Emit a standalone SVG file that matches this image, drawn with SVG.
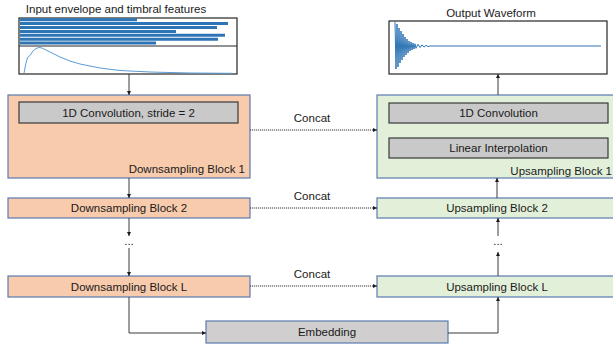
<svg xmlns="http://www.w3.org/2000/svg" width="613" height="347" viewBox="0 0 613 347">
<defs>
<marker id="ah" viewBox="0 0 6 6" refX="6" refY="3" markerWidth="4" markerHeight="4" orient="auto"><path d="M0,0 L6,3 L0,6 z" fill="#1a1a1a"/></marker>
<style>
text{font-family:"Liberation Sans",Arial,sans-serif;font-size:11.5px;fill:#1a1a1a}
.down{fill:#F8CBAD;stroke:#5B7BAF;stroke-width:1.2}
.up{fill:#E2F0D9;stroke:#5B7BAF;stroke-width:1.2}
.gray{fill:#C9C9C9;stroke:#3a3a3a;stroke-width:1.2}
.emb{fill:#D0CECE;stroke:#5B7BAF;stroke-width:1.2}
.frame{fill:#fff;stroke:#262626;stroke-width:1.2}
.bar{stroke:#2E75B6;stroke-width:3}
.ln{fill:none;stroke:#3a3a3a;stroke-width:1}
.dot{fill:none;stroke:#3a3a3a;stroke-width:1;stroke-dasharray:1.2,0.8}
.c{text-anchor:middle}
</style>
</defs>

<g id="input">
<text x="116" y="13" class="c">Input envelope and timbral features</text>
<rect class="frame" x="19" y="18" width="218" height="56"/>
<line x1="19" y1="46" x2="237" y2="46" stroke="#262626" stroke-width="1"/>
<line class="bar" x1="20" y1="19.7" x2="137" y2="19.7"/>
<line class="bar" x1="20" y1="23.6" x2="228" y2="23.6"/>
<line class="bar" x1="20" y1="27.5" x2="217" y2="27.5"/>
<line class="bar" x1="20" y1="31.4" x2="176" y2="31.4"/>
<line class="bar" x1="20" y1="35.3" x2="225" y2="35.3"/>
<line class="bar" x1="20" y1="39.2" x2="218" y2="39.2"/>
<line class="bar" x1="20" y1="43.1" x2="156" y2="43.1"/>
<path d="M24,73 L26,63 L27.5,57.5 L30,55.5 L33,51 L36,48.5 L39,47.5 L42,48 L46,50 L52,53 L60,57 L70,61 L80,64 L100,68 L120,70.5 L150,72 L190,73 L232,73.3" fill="none" stroke="#5B9BD5" stroke-width="1"/>
</g>

<g id="output">
<text x="491" y="17" class="c">Output Waveform</text>
<rect class="frame" x="389" y="21" width="218" height="53"/>
<polyline fill="none" stroke="#2E75B6" stroke-width="1" points="395,22 396,69 397,24 398,67 399,28 400,63 401,31 402,60 403,34 404,57 405,37 406,55 407,39 408,53 409,41 410,51 411,42 412,50 413,43 414,49 415,43.8 416,48.3 418,44.3 420,47.6 422,44.9 424,47.1 426,45.3 428,46.6 430,46 601,46"/>
</g>

<g id="down1">
<rect class="down" x="8" y="95" width="242" height="83"/>
<rect class="gray" x="19" y="102" width="219" height="21"/>
<text x="128.5" y="116.5" class="c">1D Convolution, stride = 2</text>
<text x="245" y="173" text-anchor="end">Downsampling Block 1</text>
</g>
<g id="down2">
<rect class="down" x="8" y="198" width="242" height="20"/>
<text x="129" y="212" class="c">Downsampling Block 2</text>
</g>
<g id="downL">
<rect class="down" x="8" y="276" width="242" height="21"/>
<text x="129" y="290.5" class="c">Downsampling Block L</text>
</g>

<g id="up1">
<rect class="up" x="377" y="95" width="240" height="83"/>
<rect class="gray" x="389" y="103" width="219" height="20"/>
<text x="498.5" y="117" class="c">1D Convolution</text>
<rect class="gray" x="389" y="138" width="219" height="20"/>
<text x="498.5" y="152" class="c">Linear Interpolation</text>
<text x="612" y="175" text-anchor="end">Upsampling Block 1</text>
</g>
<g id="up2">
<rect class="up" x="377" y="198" width="240" height="20"/>
<text x="497" y="212" class="c">Upsampling Block 2</text>
</g>
<g id="upL">
<rect class="up" x="377" y="276" width="240" height="21"/>
<text x="497" y="290.5" class="c">Upsampling Block L</text>
</g>

<g id="embedding">
<rect class="emb" x="206" y="321" width="242" height="22"/>
<text x="327" y="336" class="c">Embedding</text>
</g>

<g id="dots">
<text x="129" y="245" class="c">...</text>
<text x="498" y="245" class="c">...</text>
</g>

<g id="connectors">
<line class="ln" x1="129" y1="74" x2="129" y2="95" marker-end="url(#ah)"/>
<line class="ln" x1="498" y1="95" x2="498" y2="74" marker-end="url(#ah)"/>
<line class="ln" x1="129" y1="178" x2="129" y2="198" marker-end="url(#ah)"/>
<line class="ln" x1="497" y1="198" x2="497" y2="178" marker-end="url(#ah)"/>
<line class="ln" x1="129" y1="218" x2="129" y2="236" marker-end="url(#ah)"/>
<line class="ln" x1="129" y1="248" x2="129" y2="276" marker-end="url(#ah)"/>
<line class="ln" x1="498" y1="276" x2="498" y2="252" marker-end="url(#ah)"/>
<line class="ln" x1="498" y1="236" x2="498" y2="218" marker-end="url(#ah)"/>
<polyline class="ln" points="129,297 129,333 206,333" marker-end="url(#ah)"/>
<polyline class="ln" points="448,333 498,333 498,297" marker-end="url(#ah)"/>
<line class="dot" x1="250" y1="130" x2="377" y2="130" marker-end="url(#ah)"/>
<line class="dot" x1="250" y1="208" x2="377" y2="208" marker-end="url(#ah)"/>
<line class="dot" x1="250" y1="286" x2="377" y2="286" marker-end="url(#ah)"/>
<text x="312" y="122" class="c">Concat</text>
<text x="312" y="200" class="c">Concat</text>
<text x="312" y="278" class="c">Concat</text>
</g>
</svg>
